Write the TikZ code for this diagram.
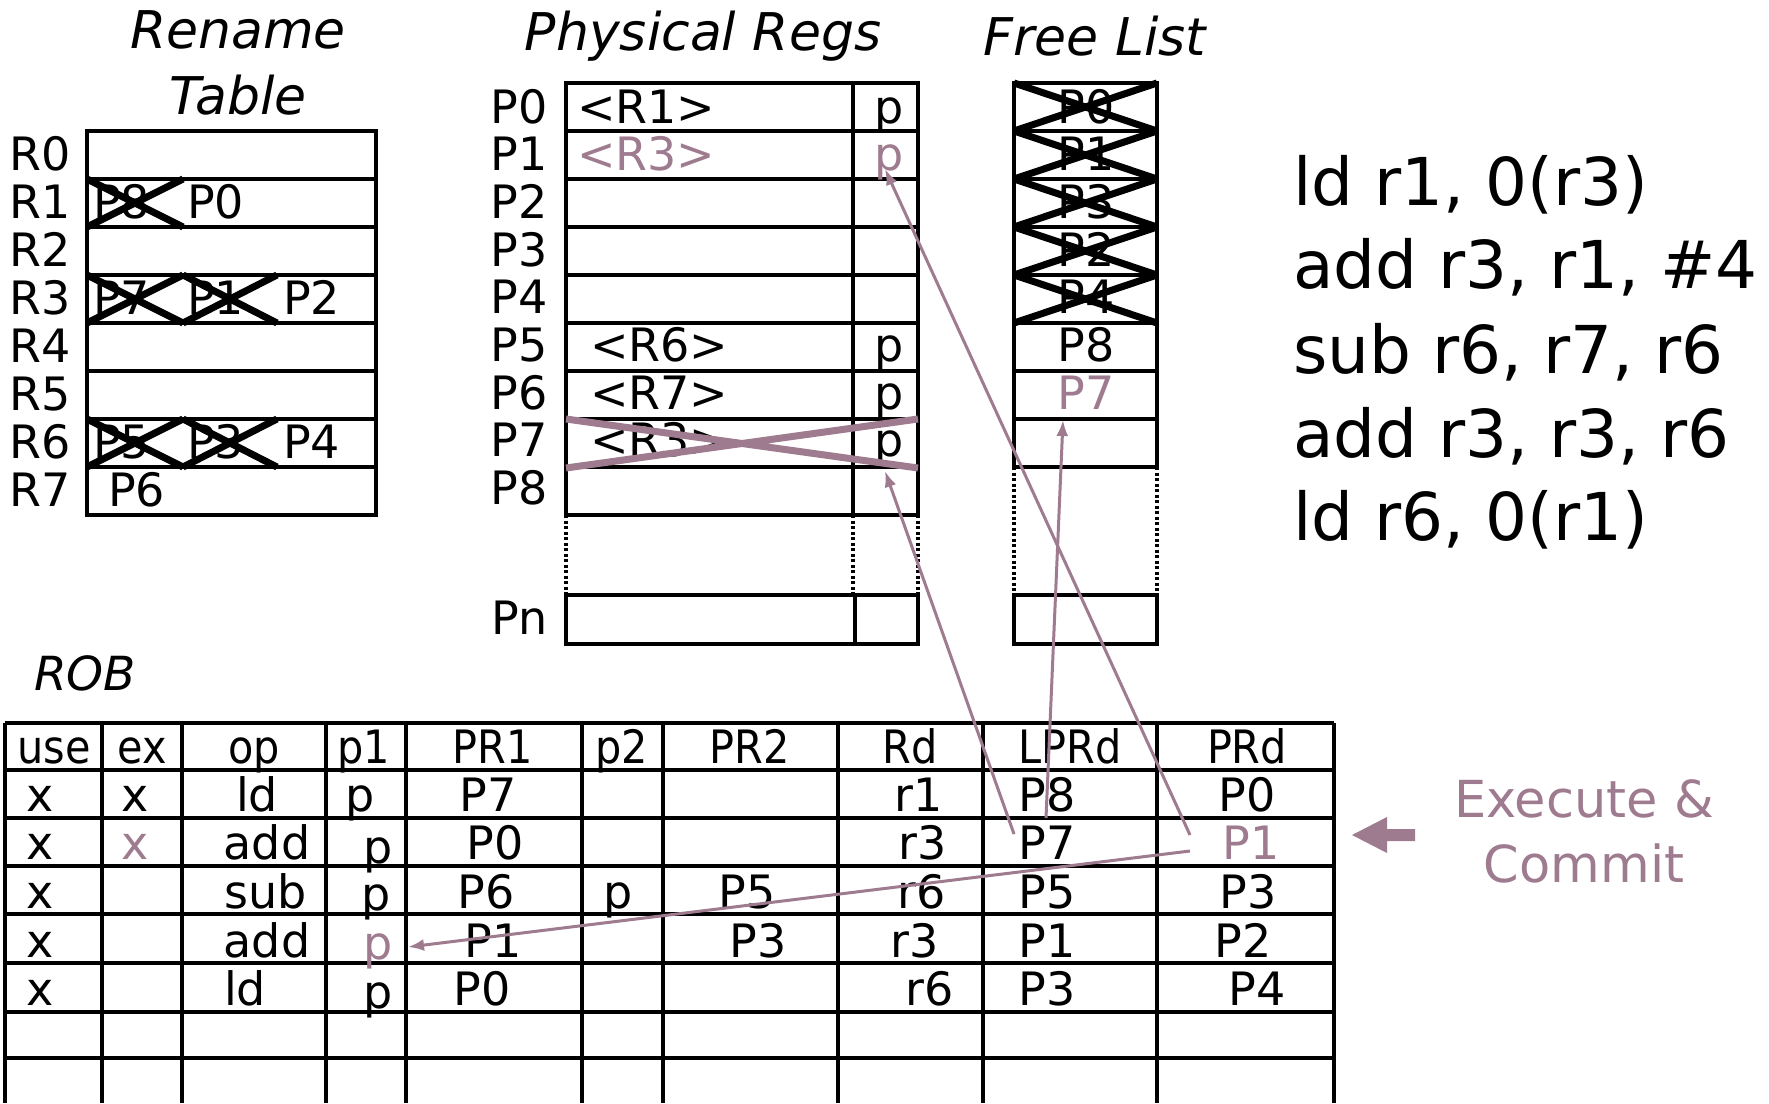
\documentclass[tikz,border=0pt]{standalone}
\usepackage{fontspec}
\setmainfont{DejaVu Sans}
\newfontfamily\condfont{DejaVu Sans Condensed}
\usetikzlibrary{arrows.meta}
\definecolor{purp}{RGB}{158,123,143}
\begin{document}
\begin{tikzpicture}[x=1pt,y=-1pt,
  txt/.style={inner sep=0pt, font=\fontsize{46}{52}\selectfont, anchor=base},
  tbl/.style={inner sep=0pt, font=\fontsize{46}{52}\selectfont, anchor=base},
  hdr/.style={inner sep=0pt, font=\condfont\fontsize{46}{52}\selectfont, anchor=base},
  ttl/.style={inner sep=0pt, font=\fontsize{52}{58}\selectfont\itshape, anchor=base},
  instr/.style={inner sep=0pt, font=\fontsize{66}{72}\selectfont, anchor=base west},
  grid/.style={line width=3.5pt, black},
  dotline/.style={line width=3.5pt, black, dash pattern=on 3pt off 2.5pt},
  crossx/.style={line width=7pt, black},
  crossp/.style={line width=7pt, purp},
  arr/.style={purp, line width=3pt, -{Latex[length=16pt,width=12pt]}},
]
\useasboundingbox (0,0) rectangle (1769,1103);

% ---------------- Titles
\node[ttl] (tRename) at (238,48) {Rename};
\node[ttl] (tTable) at (238,114) {Table};
\node[ttl] (tPhys) at (703,50) {Physical Regs};
\node[ttl] (tFree) at (1095,55) {Free List};
\node[ttl, font=\fontsize{47}{52}\selectfont\itshape] (tROB) at (85,690) {ROB};

% ---------------- Rename table
\draw[grid] (87,131) rectangle (376,515);
\foreach \i in {1,...,7} \draw[grid] (87,{131+48*\i}) -- (376,{131+48*\i});
\foreach \i in {0,...,7} \node[txt, anchor=base west] (rl\i) at (9,{170+48*\i}) {R\i};
\node[txt, anchor=base west] (rt1a) at (93,218) {P8};
\node[txt, anchor=base west] (rt1b) at (187,218) {P0};
\node[txt, anchor=base west] (rt3a) at (93,314) {P7};
\node[txt, anchor=base west] (rt3b) at (187,314) {P1};
\node[txt, anchor=base west] (rt3c) at (283,314) {P2};
\node[txt, anchor=base west] (rt6a) at (93,458) {P5};
\node[txt, anchor=base west] (rt6b) at (187,458) {P3};
\node[txt, anchor=base west] (rt6c) at (283,458) {P4};
\node[txt, anchor=base west] (rt7a) at (108,506) {P6};
\draw[crossx] (87,179) -- (183,227) (87,227) -- (183,179);
\draw[crossx] (87,275) -- (183,323) (87,323) -- (183,275);
\draw[crossx] (183,275) -- (277,323) (183,323) -- (277,275);
\draw[crossx] (87,419) -- (183,467) (87,467) -- (183,419);
\draw[crossx] (183,419) -- (277,467) (183,467) -- (277,419);

% ---------------- Physical registers
\draw[grid] (566,83) rectangle (918,515);
\draw[grid] (853,83) -- (853,515);
\foreach \i in {1,...,8} \draw[grid] (566,{83+48*\i}) -- (918,{83+48*\i});
\foreach \i in {0,...,8} \node[txt, anchor=base east] (pl\i) at (548,{123+47.7*\i}) {P\i};
\draw[dotline] (566,515) -- (566,595) (853,515) -- (853,595) (918,515) -- (918,595);
\draw[grid] (566,595) rectangle (918,644);
\draw[grid] (855,595) -- (855,644);
\node[txt, anchor=base east] (pln) at (548,634) {Pn};
\node[txt, anchor=base west] (pc0) at (577,123) {<R1>};
\node[txt, anchor=base west, purp] (pc1) at (577,170.7) {<R3>};
\node[txt, anchor=base west] (pc5) at (590,361.5) {<R6>};
\node[txt, anchor=base west] (pc6) at (590,409.2) {<R7>};
\node[txt, anchor=base west] (pc7) at (590,456.9) {<R3>};
\node[txt] (pp0) at (889,123) {p};
\node[txt, purp] (pp1) at (889,170.7) {p};
\node[txt] (pp5) at (889,361.5) {p};
\node[txt] (pp6) at (889,409.2) {p};
\node[txt] (pp7) at (889,456.9) {p};
\draw[crossp] (566,419) -- (918,468) (566,468) -- (918,419);

% ---------------- Free list
\draw[grid] (1014,83) rectangle (1157,467);
\foreach \i in {1,...,7} \draw[grid] (1014,{83+48*\i}) -- (1157,{83+48*\i});
\foreach \n/\t [count=\i from 0] in {f0/P0,f1/P1,f2/P3,f3/P2,f4/P4,f5/P8}
  \node[txt] (\n) at (1086,{123+47.7*\i}) {\t};
\node[txt, purp] (f6) at (1086,409.2) {P7};
\foreach \i in {0,...,4}
  \draw[crossx] (1014,{83+48*\i}) -- (1157,{83+48*(\i+1)})
                (1014,{83+48*(\i+1)}) -- (1157,{83+48*\i});
\draw[dotline] (1014,467) -- (1014,595) (1157,467) -- (1157,595);
\draw[grid] (1014,595) rectangle (1157,644);

% ---------------- Instructions
\node[instr] (i1) at (1293,205) {ld r1, 0(r3)};
\node[instr] (i2) at (1293,288) {add r3, r1, \#4};
\node[instr] (i3) at (1293,373) {sub r6, r7, r6};
\node[instr] (i4) at (1293,457) {add r3, r3, r6};
\node[instr] (i5) at (1293,540) {ld r6, 0(r1)};

% ---------------- ROB
\foreach \y in {723,770,818,866,914,963,1012,1058} \draw[grid] (5,\y) -- (1334,\y);
\foreach \x in {5,102,182,326,406,582,663,838,983,1157,1334} \draw[grid] (\x,723) -- (\x,1103);
% header
\foreach \n/\x/\t in {h1/54/use,h2/142/ex,h3/254/op,h4/364/p1,h5/493/PR1,h6/622/p2,h7/750/PR2,h8/910/Rd,h9/1070/LPRd,h10/1247/PRd}
  \node[hdr] (\n) at (\x,763) {\t};
% row 1
\foreach \n/\x/\t in {ra1/40/x,rb1/135/x,rc1/257/ld,rd1/360/p,re1/488/P7,rh1/919/r1,ri1/1047/P8,rj1/1247/P0}
  \node[tbl] (\n) at (\x,811) {\t};
% row 2
\foreach \n/\x/\t in {ra2/40/x,rc2/267/add,re2/495/P0,rh2/923/r3,ri2/1047/P7}
  \node[tbl] (\n) at (\x,859) {\t};
\node[tbl, purp] (rb2) at (135,859) {x};
\node[tbl] (rd2) at (378,863) {p};
\node[tbl, purp] (rj2) at (1251,859) {P1};
% row 3
\foreach \n/\x/\t in {ra3/40/x,rc3/266/sub,re3/486/P6,rf3/618/p,rg3/747/P5,rh3/922/r6,ri3/1047/P5,rj3/1248/P3}
  \node[tbl] (\n) at (\x,908) {\t};
\node[tbl] (rd3) at (376,910) {p};
% row 4
\foreach \n/\x/\t in {ra4/40/x,rc4/267/add,re4/493/P1,rg4/758/P3,rh4/915/r3,ri4/1047/P1,rj4/1243/P2}
  \node[tbl] (\n) at (\x,957) {\t};
\node[tbl, purp] (rd4) at (378,959) {p};
% row 5
\foreach \n/\x/\t in {ra5/40/x,rc5/245/ld,re5/482/P0,rh5/930/r6,ri5/1047/P3,rj5/1257/P4}
  \node[tbl] (\n) at (\x,1005) {\t};
\node[tbl] (rd5) at (378,1008) {p};

% ---------------- Connectors
\coordinate (a1s) at (1190,835); \coordinate (a1e) at (885,169);
\coordinate (a2s) at (1014,834); \coordinate (a2e) at (885,471);
\coordinate (a3s) at (1046,818); \coordinate (a3e) at (1063,420);
\coordinate (a4s) at (1190,851); \coordinate (a4e) at (408,947);
\draw[arr] (a1s) -- (a1e);
\draw[arr] (a2s) -- (a2e);
\draw[arr] (a3s) -- (a3e);
\draw[arr] (a4s) -- (a4e);

% ---------------- Execute & Commit
\fill[purp] (1352,835) -- (1387,817) -- (1387,829) -- (1415,829) -- (1415,841)
  -- (1387,841) -- (1387,853) -- cycle;
\node[txt, font=\fontsize{51}{60}\selectfont, text=purp] (ec1) at (1584,817) {Execute \&};
\node[txt, font=\fontsize{51}{60}\selectfont, text=purp] (ec2) at (1584,882) {Commit};
\end{tikzpicture}
\end{document}
